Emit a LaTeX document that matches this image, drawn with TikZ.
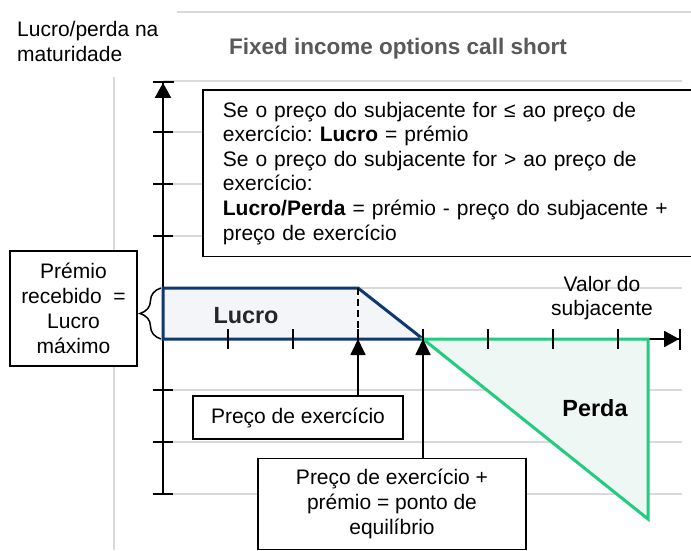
\documentclass[tikz,border=0pt]{standalone}
\usepackage{fontspec}
\setmainfont{Liberation Sans}
\usetikzlibrary{arrows.meta,decorations.pathreplacing}

\definecolor{gridgray}{RGB}{217,217,217}
\definecolor{titlegray}{RGB}{89,89,89}
\definecolor{lucroblue}{RGB}{16,56,112}
\definecolor{lucrofill}{RGB}{243,245,249}
\definecolor{perdagreen}{RGB}{34,204,126}
\definecolor{perdafill}{RGB}{238,247,244}

\tikzset{
  gridline/.style={gridgray, line width=1.5pt},
  axis/.style={line width=1.8pt, -{Triangle[width=16pt,length=15pt]Bar[width=21pt]}},
  axistick/.style={line width=1.8pt},
  pointer/.style={line width=1.8pt, -{Triangle[width=15pt,length=16pt]}},
  infobox/.style={draw, line width=1.8pt, fill=white, inner sep=0pt, align=center},
  bodytext/.style={font=\fontsize{21}{24.6}\selectfont},
  boldlabel/.style={font=\fontsize{23.4}{28}\selectfont\bfseries},
}

\begin{document}
\frenchspacing
\begin{tikzpicture}[x=1pt, y=-1pt]

 \useasboundingbox (0,0) rectangle (691,550);
 \fill[white] (0,0) rectangle (691,550);

% chart frame and grid
 \draw[gridline] (177,12) -- (691,12);
 \draw[gridline] (114,77) -- (114,550);
 \foreach \y in {81,132,184,236,288,390,442,494}
   \draw[gridline] (163,\y) -- (682,\y);

 \coordinate (origin) at (163,339);
 \coordinate (ytop) at (163,81);
 \coordinate (ybottom) at (163,494);
 \coordinate (xend) at (681,339);
 \coordinate (premTop) at (163,288);
 \coordinate (kStrike) at (358,339); % strike price
 \coordinate (kBreak) at (423,339); % break even
 \coordinate (perdaEnd) at (648,339);
 \coordinate (perdaLow) at (648,519);

% axes
 \draw[axis] (ybottom) -- (ytop);
 \draw[axis] (origin) -- (xend);

% profit and loss areas
 \draw[lucroblue, line width=3pt, fill=lucrofill] (premTop) -- (kStrike |- premTop) -- (kBreak) -- (origin) -- cycle;
 \draw[perdagreen, line width=3pt, fill=perdafill] (kBreak) -- (perdaEnd) -- (perdaLow) -- cycle;
 \draw[line width=2.4pt, dash pattern=on 7pt off 4pt] (kStrike |- premTop) -- (kStrike);

% ticks
 \foreach \x in {228,293,358,423,488,553,618}
   \draw[axistick] (\x,329) -- (\x,349);
 \foreach \y in {132,184,236,390,442,494}
   \draw[axistick] (153,\y) -- (173,\y);

% texts
 \node[anchor=north west, inner sep=0pt, align=left, bodytext] (ylabel) at (17,21) {Lucro/perda na\\maturidade};
 \node[anchor=base west, inner sep=0pt, font=\fontsize{22.5}{27}\selectfont\bfseries, text=titlegray] (title) at (229,54) {Fixed income options call short};
 \node[inner sep=0pt, align=center, bodytext] (xlabel) at (602,298) {Valor do\\subjacente};
 \node[boldlabel, text=black!85] (lucro) at (246,316) {Lucro};
 \node[boldlabel] (perda) at (595,408) {Perda};

% boxes
 \node[infobox, anchor=north west, align=left, text width=500pt, inner xsep=20pt, inner ysep=12pt, bodytext] (regra) at (202,89)
   {Se o preço do subjacente for ≤ ao preço de\\
    exercício: \textbf{Lucro} = prémio\\
    Se o preço do subjacente for > ao preço de\\
    exercício:\\
    \textbf{Lucro/Perda} = prémio - preço do subjacente +\\
    preço de exercício};
 \node[infobox, minimum width=127pt, minimum height=115pt, font=\fontsize{21}{25}\selectfont] (premio) at (73.5,308.5)
   {Prémio\\recebido \ =\\Lucro\\máximo};
 \node[infobox, minimum width=210pt, minimum height=43pt, bodytext] (strike) at (298,417.5) {Preço de exercício};
 \node[infobox, minimum width=268pt, minimum height=91pt, bodytext] (breakeven) at (392,504)
   {Preço de exercício +\\prémio = ponto de\\equilíbrio};

% pointers
 \draw[pointer] (strike.north -| kStrike) -- (kStrike);
 \draw[pointer] (breakeven.north -| kBreak) -- (kBreak);
 \draw[line width=1.5pt, decorate, decoration={brace, amplitude=21pt}] (origin) ++(-2,0) -- ++(0,-51); % premium received

\end{tikzpicture}
\end{document}
